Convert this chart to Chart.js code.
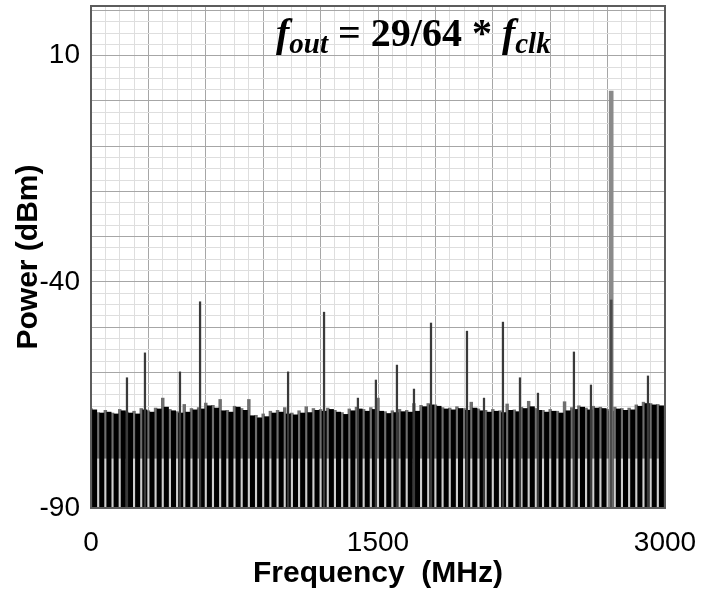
<!DOCTYPE html>
<html>
<head>
<meta charset="utf-8">
<script src="https://cdn.jsdelivr.net/npm/chart.js@4.4.0/dist/chart.umd.min.js"></script>
<style>
  body { margin: 0; background: #fff; }
  #wrap { width: 715px; height: 592px; }
</style>
</head>
<body>
<div id="wrap"><canvas id="spectrumChart" width="715" height="592"></canvas></div>
<script>
// spectrum of the DAC output, fout = 29/64 * fclk (fclk = 6 GHz)
var binWidth = 37.5;          // MHz per noise-floor bin
var bandEdge = -79;           // dB, where the floor texture changes

var floorTop = [
  -68.3, -69.0, -68.8, -69.2, -68.5, -69.0, -69.2, -68.3, -68.8, -68.1,
  -67.7, -68.5, -69.0, -68.8, -68.3, -68.1, -67.4, -67.9, -68.5, -68.8,
  -67.7, -68.4, -69.6, -70.1, -69.8, -69.0, -68.8, -69.2, -69.4, -69.0,
  -68.9, -68.4, -68.6, -68.2, -68.8, -69.3, -68.5, -68.1, -68.6, -68.2,
  -68.6, -69.1, -68.9, -68.7, -68.8, -68.6, -67.6, -67.2, -67.5, -68.1,
  -68.3, -68.0, -68.4, -67.9, -68.5, -68.8, -68.6, -68.9, -68.4, -68.7,
  -68.0, -67.6, -68.4, -68.8, -68.6, -69.0, -68.5, -68.2, -67.7, -68.3,
  -67.9, -68.0, -68.6, -68.1, -68.4, -68.3, -67.5, -66.9, -67.2, -67.4
];

var gapTop = [
  -68.0, -68.9, -68.4, -69.0, -68.2, -68.8, -68.6, -68.0, -68.5, -67.9,
  -65.7, -68.2, -68.7, -67.1, -68.0, -67.8, -66.8, -67.3, -66.0, -68.4,
  -67.5, -68.0, -66.0, -69.5, -69.2, -68.6, -68.4, -67.8, -69.0, -68.5,
  -67.6, -68.0, -68.2, -67.9, -68.4, -68.9, -68.1, -67.7, -68.2, -67.8,
  -65.7, -68.7, -68.5, -68.2, -68.4, -66.9, -67.3, -66.9, -67.2, -67.8,
  -67.9, -67.6, -68.0, -66.6, -68.1, -68.4, -68.2, -68.5, -67.0, -68.3,
  -67.7, -66.4, -68.0, -68.4, -68.2, -68.6, -66.5, -67.8, -67.4, -67.9,
  -67.5, -67.7, -68.2, -67.7, -68.0, -67.9, -67.2, -66.6, -66.9, -67.1
];

var spurFreq = [188, 282, 465, 570, 1030, 1218, 1395, 1489, 1599, 1688,
                1777, 1965, 2054, 2153, 2242, 2336, 2524, 2613, 2911];
var spurLevel = [-61.2, -55.7, -59.9, -44.4, -59.9, -46.7, -65.7, -61.7, -58.4, -63.7,
                 -49.1, -50.9, -65.7, -48.9, -61.2, -64.6, -55.5, -62.8, -60.8];

var fundFreq = 2718.75;
var fundLevel = 2.2;
var fundCoreLevel = -44;

var yLabels = [10, -40, -90];
var xLabels = [0, 1500, 3000];

var titleParts = [
  ['f', 'main-italic'], ['out', 'sub'], [' = 29/64 * ', 'main'], ['f', 'main-italic'], ['clk', 'sub']
];

var floorData = floorTop.map(function (v, i) { return { x: (i + 0.5) * binWidth, y: [-90, v] }; });
var gapLow = gapTop.map(function (v, i) { return { x: i * binWidth, y: [-90, bandEdge] }; });
var gapHigh = gapTop.map(function (v, i) { return { x: i * binWidth, y: [bandEdge, v] }; });
var spurData = spurFreq.map(function (f, i) { return { x: f, y: [-90, spurLevel[i]] }; });

var framePlugin = {
  id: 'frame',
  afterDatasetsDraw: function (chart) {
    var ctx = chart.ctx, a = chart.chartArea;
    ctx.save();
    ctx.strokeStyle = '#5c5c5c';
    ctx.lineWidth = 2;
    ctx.strokeRect(a.left, a.top, a.right - a.left, a.bottom - a.top);

    var fonts = {
      'main-italic': 'bold italic 40px "Liberation Serif"',
      'main': 'bold 40px "Liberation Serif"',
      'sub': 'bold italic 29px "Liberation Serif"'
    };
    var x = a.left + 185;
    var base = a.top + 40;
    ctx.fillStyle = '#000';
    ctx.textBaseline = 'alphabetic';
    ctx.textAlign = 'left';
    titleParts.forEach(function (p) {
      ctx.font = fonts[p[1]];
      var y = p[1] === 'sub' ? base + 7 : base;
      ctx.fillText(p[0], x, y);
      x += ctx.measureText(p[0]).width;
    });
    ctx.restore();
  }
};

var ctx = document.getElementById('spectrumChart').getContext('2d');
var spectrumChart = new Chart(ctx, {
  type: 'bar',
  data: {
    datasets: [
      {
        label: 'fundamental core',
        data: [{ x: fundFreq, y: [-90, fundCoreLevel] }],
        backgroundColor: '#4a4a4a',
        barThickness: 2,
        grouped: false,
        order: 0
      }, {
        label: 'fundamental',
        data: [{ x: fundFreq, y: [-90, fundLevel] }],
        backgroundColor: '#8a8a8a',
        barThickness: 4,
        grouped: false,
        order: 1
      }, {
        label: 'spurs',
        data: spurData,
        backgroundColor: '#3a3a3a',
        barThickness: 1.6,
        grouped: false,
        order: 2
      }, {
        label: 'floor',
        data: floorData,
        backgroundColor: '#000000',
        barThickness: 4.4,
        grouped: false,
        order: 3
      }, {
        label: 'floor gaps high',
        data: gapHigh,
        backgroundColor: '#6e6e6e',
        barThickness: 2.8,
        grouped: false,
        order: 4
      }, {
        label: 'floor gaps low',
        data: gapLow,
        backgroundColor: '#cfcfcf',
        barThickness: 2.6,
        grouped: false,
        order: 5
      }
    ]
  },
  options: {
    responsive: false,
    animation: false,
    layout: { padding: { left: 0, right: 50, top: 6, bottom: 0 } },
    plugins: {
      legend: { display: false },
      tooltip: { enabled: false }
    },
    scales: {
      x: {
        type: 'linear',
        min: 0,
        max: 3000,
        offset: false,
        grid: {
          offset: false,
          drawTicks: false,
          color: function (c) { return c.tick && c.tick.value % 300 === 0 ? '#a6a6a6' : '#dedede'; },
          lineWidth: 1
        },
        border: { display: false },
        ticks: {
          stepSize: 75,
          autoSkip: false,
          maxRotation: 0,
          padding: 18,
          color: '#000',
          font: { family: '"Liberation Sans", Arial', size: 28 },
          callback: function (v) { return xLabels.indexOf(v) >= 0 ? String(v) : ''; }
        },
        title: {
          display: true,
          text: 'Frequency  (MHz)',
          color: '#000',
          font: { family: '"Liberation Sans", Arial', size: 30, weight: 'bold' },
          padding: { top: 0, bottom: 0 }
        },
        afterFit: function (s) { s.height = 84; }
      },
      y: {
        min: -90,
        max: 21,
        grid: {
          drawTicks: false,
          color: function (c) { return c.tick && c.tick.value % 10 === 0 ? '#a6a6a6' : '#dedede'; },
          lineWidth: 1
        },
        border: { display: false },
        ticks: {
          stepSize: 2.5,
          includeBounds: false,
          autoSkip: false,
          padding: 11,
          color: '#000',
          font: { family: '"Liberation Sans", Arial', size: 28 },
          callback: function (v) { return yLabels.indexOf(v) >= 0 ? String(v) : ''; }
        },
        title: {
          display: true,
          text: 'Power (dBm)',
          color: '#000',
          font: { family: '"Liberation Sans", Arial', size: 30, weight: 'bold' },
          padding: { top: 11, bottom: 0 }
        },
        afterFit: function (s) { s.width = 91; s.paddingTop = 0; }
      }
    }
  },
  plugins: [framePlugin]
});
</script>
</body>
</html>
